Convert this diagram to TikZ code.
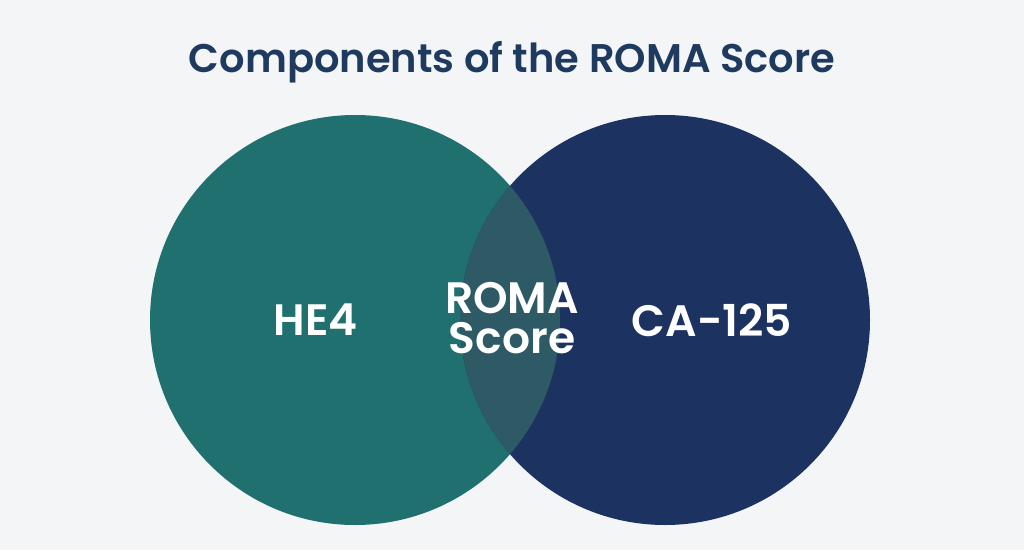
\documentclass[tikz,border=0pt]{standalone}
\usepackage{fontspec}
\setmainfont{Poppins}[BoldFont={Poppins SemiBold}]
\begin{document}
\begin{tikzpicture}[x=1pt,y=1pt,
  lbl/.style={text=white,font=\fontsize{44}{50}\selectfont\bfseries,align=center}]
\definecolor{bg}{HTML}{F3F5F6}
\definecolor{teal}{HTML}{20706F}
\definecolor{navy}{HTML}{1C3260}
\definecolor{mid}{HTML}{2E5A66}
\definecolor{ttl}{HTML}{1F3A5F}
\fill[bg] (0,0) rectangle (1024,550);
\useasboundingbox (0,0) rectangle (1024,550);
\fill[teal] (355,230) circle (205);
\fill[navy] (665,230) circle (205);
\begin{scope}
  \clip (355,230) circle (205);
  \fill[mid] (665,230) circle (205);
\end{scope}
\node[font=\fontsize{40}{46}\selectfont\bfseries,text=ttl] (title) at (512,488) {Components of the ROMA Score};
\node[lbl] (he4) at (316,230) {HE4};
\node[lbl,font=\fontsize{44}{48}\selectfont\bfseries] (roma) at (512,232) {ROMA\\[-8pt]Score};
\node[lbl] (ca) at (712,230) {CA-125};
\end{tikzpicture}
\end{document}
